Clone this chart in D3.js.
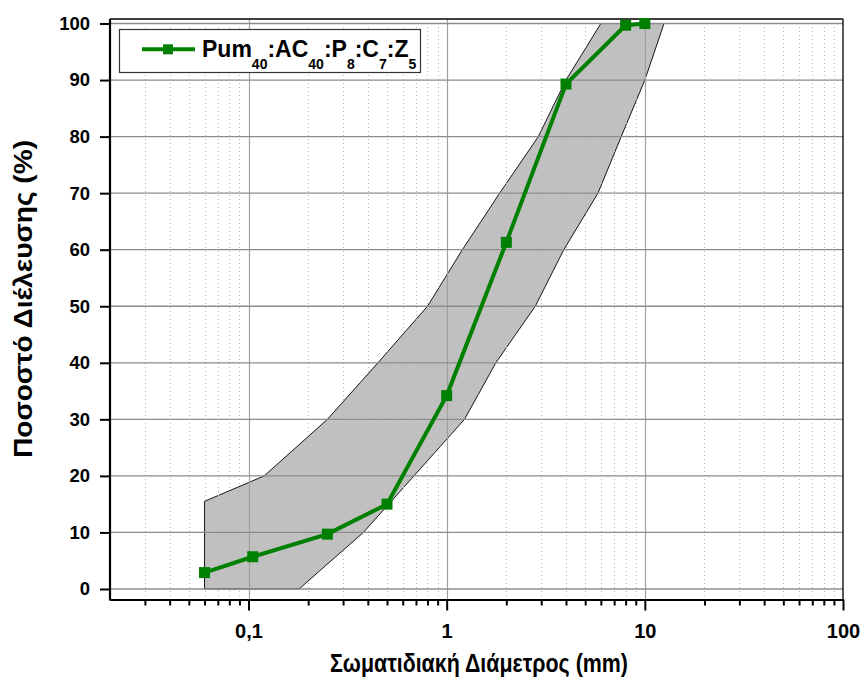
<!DOCTYPE html>
<html>
<head>
<meta charset="utf-8">
<script src="https://cdn.jsdelivr.net/npm/d3@7"></script>
<style>
  html, body { margin: 0; padding: 0; background: #fff; }
  svg { display: block; font-family: "Liberation Sans", Arial, sans-serif; }
</style>
</head>
<body>
<svg id="chart" width="864" height="688"></svg>
<script>
// Grading curve of the mix (sieve size in mm, % passing)
const sieveSizes = [0.06, 0.105, 0.25, 0.5, 1, 2, 4, 8, 10];
const passing    = [2.9, 5.7, 9.7, 15.0, 34.2, 61.3, 89.3, 99.7, 100];

// Specification envelope: upper and lower limits
const upperSizes = [0.06, 0.12, 0.25, 0.45, 0.8, 1.2, 1.85, 2.9, 4, 6];
const upperPass  = [15.5, 20, 30, 40, 50, 60, 70, 80, 90, 100];
const lowerSizes = [0.06, 0.18, 0.38, 1.23, 1.77, 2.8, 3.9, 5.8, 7.6, 10, 12.5];
const lowerPass  = [0, 0, 10, 30, 40, 50, 60, 70, 80, 90, 100];

// Axis ticks
const xMajor = [0.1, 1, 10, 100];
const xMajorLabels = ["0,1", "1", "10", "100"];
const yTicks = [0, 10, 20, 30, 40, 50, 60, 70, 80, 90, 100];

const seriesName = [["Pum", "40"], [":AC", "40"], [":P", "8"], [":C", "7"], [":Z", "5"]];

const plotL = 110, plotR = 843, plotT = 19, plotB = 599.5;

const x = d3.scaleLog().domain([0.02, 100]).range([plotL, plotR]);
const y = d3.scaleLinear().domain([-1.86, 100.8]).range([plotB, plotT]);

const svg = d3.select("#chart");

// minor decade positions
const xMinor = [];
[0.01, 0.1, 1, 10].forEach(dec => {
  for (let k = 2; k <= 9; k++) {
    const v = dec * k;
    if (v > 0.02 + 1e-9 && v < 100 - 1e-9) xMinor.push(v);
  }
});

// envelope polygon
const envelope = upperSizes.map((s, i) => [s, upperPass[i]])
  .concat(lowerSizes.map((s, i) => [s, lowerPass[i]]).reverse());
svg.append("path")
  .attr("d", d3.line().x(d => x(d[0])).y(d => y(d[1]))(envelope) + "Z")
  .attr("fill", "#c0c0c0")
  .attr("stroke", "#000")
  .attr("stroke-width", 0.9);

// grid
const grid = svg.append("g");
grid.selectAll(".vminor").data(xMinor).join("line")
  .attr("x1", d => Math.round(x(d)) + 0.5).attr("x2", d => Math.round(x(d)) + 0.5)
  .attr("y1", plotT).attr("y2", plotB)
  .attr("stroke", "#b8b8b8").attr("stroke-width", 1).attr("stroke-dasharray", "1,3");
grid.selectAll(".vmajor").data(xMajor.slice(0, 3)).join("line")
  .attr("x1", d => Math.round(x(d)) + 0.5).attr("x2", d => Math.round(x(d)) + 0.5)
  .attr("y1", plotT).attr("y2", plotB)
  .attr("stroke", "#a0a0a0").attr("stroke-width", 1.2);
grid.selectAll(".hmajor").data(yTicks).join("line")
  .attr("x1", plotL).attr("x2", plotR)
  .attr("y1", d => y(d)).attr("y2", d => y(d))
  .attr("stroke", "#8c8c8c").attr("stroke-width", 1.3);

// frame (top and right)
svg.append("line").attr("x1", plotL).attr("x2", plotR).attr("y1", plotT).attr("y2", plotT)
  .attr("stroke", "#000").attr("stroke-width", 1.3);
svg.append("line").attr("x1", plotR).attr("x2", plotR).attr("y1", plotT).attr("y2", plotB)
  .attr("stroke", "#000").attr("stroke-width", 1.3);

// x axis
const xAxisMajor = d3.axisBottom(x).tickValues(xMajor)
  .tickFormat((d, i) => xMajorLabels[i]).tickSizeInner(11).tickSizeOuter(0).tickPadding(13);
const gx = svg.append("g").attr("transform", `translate(0,${plotB})`).call(xAxisMajor);
const xAxisMinor = d3.axisBottom(x).tickValues(xMinor).tickFormat("").tickSizeInner(6).tickSizeOuter(0);
const gxm = svg.append("g").attr("transform", `translate(0,${plotB})`).call(xAxisMinor);
[gx, gxm].forEach(g => {
  g.select(".domain").attr("stroke", "#000").attr("stroke-width", 2.2);
  g.selectAll(".tick line").attr("stroke", "#000").attr("stroke-width", 2);
});
gx.selectAll(".tick text")
  .attr("font-size", 20).attr("font-weight", "bold").attr("fill", "#000")
  .attr("font-family", "'Liberation Sans', Arial, sans-serif");

// y axis
const gy = svg.append("g").attr("transform", `translate(${plotL},0)`)
  .call(d3.axisLeft(y).tickValues(yTicks).tickSizeInner(10).tickSizeOuter(0).tickPadding(10));
gy.select(".domain").attr("stroke", "#000").attr("stroke-width", 2.2)
  .attr("d", `M0,${plotT}V${plotB + 1}`);
gy.selectAll(".tick line").attr("stroke", "#000").attr("stroke-width", 2);
gy.selectAll(".tick text")
  .attr("font-size", 18.5).attr("font-weight", "bold").attr("fill", "#000")
  .attr("font-family", "'Liberation Sans', Arial, sans-serif");

// grading line
const pts = sieveSizes.map((s, i) => [s, passing[i]]);
svg.append("path")
  .attr("d", d3.line().x(d => x(d[0])).y(d => y(d[1]))(pts))
  .attr("fill", "none").attr("stroke", "#008000").attr("stroke-width", 4);
svg.selectAll(".mk").data(pts).join("rect")
  .attr("x", d => x(d[0]) - 5.5).attr("y", d => y(d[1]) - 5.5)
  .attr("width", 11).attr("height", 11).attr("fill", "#008000");

// legend
const lg = svg.append("g");
lg.append("rect").attr("x", 119.5).attr("y", 29.5).attr("width", 301).attr("height", 43)
  .attr("fill", "#fff").attr("stroke", "#333").attr("stroke-width", 1.2);
lg.append("line").attr("x1", 142).attr("x2", 195).attr("y1", 49.3).attr("y2", 49.3)
  .attr("stroke", "#008000").attr("stroke-width", 4);
lg.append("rect").attr("x", 163).attr("y", 44.3).attr("width", 10).attr("height", 10).attr("fill", "#008000");
const lt = lg.append("text").attr("x", 202).attr("y", 57)
  .attr("font-size", 23).attr("font-weight", "bold").attr("fill", "#000");
const subShift = 12;
seriesName.forEach(([main, sub], i) => {
  lt.append("tspan").attr("dy", i === 0 ? 0 : -subShift).text(main);
  lt.append("tspan").attr("font-size", 14).attr("dy", subShift).text(sub);
});

// axis titles
svg.append("text").attr("x", 479).attr("y", 672).attr("text-anchor", "middle")
  .attr("font-size", 25).attr("font-weight", "bold").attr("fill", "#000")
  .attr("textLength", 298).attr("lengthAdjust", "spacingAndGlyphs")
  .text("Σωματιδιακή Διάμετρος (mm)");
svg.append("text").attr("transform", "translate(32,299) rotate(-90)").attr("text-anchor", "middle")
  .attr("font-size", 25).attr("font-weight", "bold").attr("fill", "#000")
  .attr("textLength", 318).attr("lengthAdjust", "spacingAndGlyphs")
  .text("Ποσοστό Διέλευσης (%)");
</script>
</body>
</html>
